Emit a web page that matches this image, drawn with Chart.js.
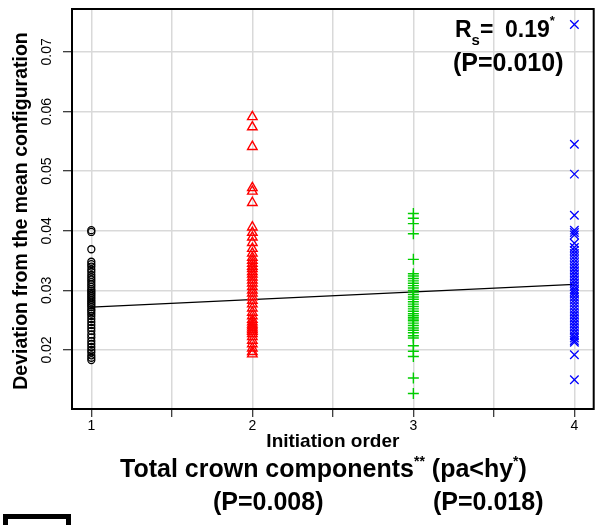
<!DOCTYPE html>
<html>
<head>
<meta charset="utf-8">
<script src="https://cdn.jsdelivr.net/npm/chart.js@4"></script>
<style>
  body { margin: 0; background: #fff; }
  canvas { display: block; }
</style>
</head>
<body>
<canvas id="deviation" width="601" height="525"></canvas>
<script>
// Deviation from the mean configuration, one column per initiation order
const order1 = [0.0401, 0.0398, 0.0369, 0.0348, 0.0344, 0.0340, 0.0335, 0.0331, 0.0326, 0.0322,
  0.0318, 0.0314, 0.0310, 0.0306, 0.0302, 0.0299, 0.0296, 0.0293, 0.0290, 0.0287, 0.0284, 0.0281,
  0.0278, 0.0275, 0.0272, 0.0268, 0.0265, 0.0261, 0.0257, 0.0252, 0.0247, 0.0242, 0.0237, 0.0232,
  0.0226, 0.0221, 0.0215, 0.0210, 0.0205, 0.0200, 0.0196, 0.0191, 0.0187, 0.0183];
const order2 = [0.0591, 0.0574, 0.0541, 0.0472, 0.0466, 0.0447, 0.0406, 0.0397, 0.0389, 0.0380,
  0.0370, 0.0362, 0.0355, 0.0350, 0.0345, 0.0340, 0.0336, 0.0331, 0.0327, 0.0322, 0.0317, 0.0312,
  0.0306, 0.0300, 0.0295, 0.0289, 0.0283, 0.0277, 0.0270, 0.0263, 0.0257, 0.0251, 0.0247, 0.0243,
  0.0240, 0.0237, 0.0234, 0.0231, 0.0227, 0.0222, 0.0216, 0.0210, 0.0203, 0.0197, 0.0193];
const order3 = [0.0429, 0.0421, 0.0412, 0.0395, 0.0352, 0.0328, 0.0324, 0.0320, 0.0316, 0.0312,
  0.0308, 0.0304, 0.0300, 0.0297, 0.0293, 0.0289, 0.0285, 0.0281, 0.0277, 0.0273, 0.0269, 0.0265,
  0.0261, 0.0258, 0.0255, 0.0252, 0.0249, 0.0245, 0.0241, 0.0237, 0.0233, 0.0229, 0.0224, 0.0220,
  0.0207, 0.0198, 0.0189, 0.0153, 0.0127];
const order4 = [0.0746, 0.0545, 0.0495, 0.0426, 0.0401, 0.0397, 0.0393, 0.0379, 0.0372, 0.0367,
  0.0362, 0.0357, 0.0352, 0.0347, 0.0342, 0.0337, 0.0332, 0.0327, 0.0322, 0.0317, 0.0312, 0.0307,
  0.0302, 0.0298, 0.0294, 0.0289, 0.0284, 0.0279, 0.0274, 0.0269, 0.0264, 0.0259, 0.0254, 0.0249,
  0.0244, 0.0239, 0.0234, 0.0229, 0.0224, 0.0220, 0.0216, 0.0213, 0.0192, 0.0150];

// regression line, ends at order 1 and 4
const fitX = [1, 4];
const fitY = [0.0272, 0.0310];

const xTicks = [1, 1.5, 2, 2.5, 3, 3.5, 4];
const yTicks = [0.02, 0.03, 0.04, 0.05, 0.06, 0.07];
const yTickLabels = ['0.02', '0.03', '0.04', '0.05', '0.06', '0.07'];

const FONT = '"Liberation Sans", Arial, Helvetica, sans-serif';

function column(x, values) {
  return values.map(v => ({ x: x, y: v }));
}

// draws a row of text pieces with their own size and vertical shift
function drawRuns(ctx, x, y, runs) {
  runs.forEach(r => {
    ctx.font = 'bold ' + r.size + 'px ' + FONT;
    const px = r.x !== undefined ? r.x : x;
    ctx.fillText(r.t, px, y + (r.dy || 0));
    x = px + ctx.measureText(r.t).width;
  });
}

const annotations = {
  id: 'annotations',
  afterDraw(chart) {
    const ctx = chart.ctx;
    const area = chart.chartArea;
    const yScale = chart.scales.y;
    ctx.save();
    ctx.fillStyle = '#000';
    ctx.textBaseline = 'alphabetic';

    // plot box
    ctx.strokeStyle = '#000';
    ctx.lineWidth = 2;
    ctx.strokeRect(area.left, area.top, area.right - area.left, area.bottom - area.top);

    // rotated y tick labels
    ctx.font = '14px ' + FONT;
    ctx.textAlign = 'center';
    yTicks.forEach((v, i) => {
      ctx.save();
      ctx.translate(51, yScale.getPixelForValue(v));
      ctx.rotate(-Math.PI / 2);
      ctx.fillText(yTickLabels[i], 0, 0);
      ctx.restore();
    });

    // y axis title
    ctx.save();
    ctx.translate(27, 211);
    ctx.rotate(-Math.PI / 2);
    ctx.font = 'bold 19.5px ' + FONT;
    ctx.fillText('Deviation from the mean configuration', 0, 0);
    ctx.restore();

    // x axis title
    ctx.font = 'bold 19px ' + FONT;
    ctx.fillText('Initiation order', (area.left + area.right) / 2, 447);

    ctx.textAlign = 'left';
    // correlation in the corner
    drawRuns(ctx, 455, 37, [
      { t: 'R', size: 23 },
      { t: 's', size: 15, dy: 8 },
      { t: '=', size: 23, x: 480 },
      { t: '0.19', size: 23, x: 505 },
      { t: '*', size: 13, dy: -12 }
    ]);
    drawRuns(ctx, 453, 71, [{ t: '(P=0.010)', size: 25 }]);

    // caption lines under the chart
    drawRuns(ctx, 120, 477, [
      { t: 'Total crown components', size: 25 },
      { t: '**', size: 14, dy: -11 },
      { t: ' (pa<hy', size: 25 },
      { t: '*', size: 14, dy: -11 },
      { t: ')', size: 25 }
    ]);
    drawRuns(ctx, 213, 510, [{ t: '(P=0.008)', size: 25 }]);
    drawRuns(ctx, 433, 510, [{ t: '(P=0.018)', size: 25 }]);

    // black box at the lower left corner
    ctx.lineWidth = 5;
    ctx.strokeRect(5.5, 516.5, 63, 20);
    ctx.restore();
  }
};

const config = {
  type: 'scatter',
  data: {
    datasets: [
      {
        data: column(1, order1),
        pointStyle: 'circle',
        pointRadius: 3.5,
        borderColor: '#000',
        backgroundColor: 'rgba(0,0,0,0)',
        borderWidth: 1.3
      },
      {
        data: column(2, order2),
        pointStyle: 'triangle',
        pointRadius: 5.5,
        borderColor: '#ff0000',
        backgroundColor: 'rgba(0,0,0,0)',
        borderWidth: 1.4
      },
      {
        data: column(3, order3),
        pointStyle: 'cross',
        pointRadius: 5.5,
        borderColor: '#00cd00',
        borderWidth: 1.4
      },
      {
        data: column(4, order4),
        pointStyle: 'crossRot',
        pointRadius: 6,
        borderColor: '#0000ff',
        borderWidth: 1.3
      },
      {
        type: 'line',
        data: fitX.map((x, i) => ({ x: x, y: fitY[i] })),
        borderColor: '#000',
        borderWidth: 1.2,
        pointRadius: 0,
        fill: false
      }
    ]
  },
  options: {
    responsive: false,
    animation: false,
    devicePixelRatio: 1,
    layout: { padding: { top: 9, right: 4, left: 0, bottom: 0 } },
    plugins: {
      legend: { display: false },
      tooltip: { enabled: false }
    },
    scales: {
      x: {
        type: 'linear',
        min: 0.88,
        max: 4.12,
        afterBuildTicks: scale => { scale.ticks = xTicks.map(v => ({ value: v })); },
        afterFit: scale => { scale.height = 116; },
        border: { display: false },
        grid: { color: '#d9d9d9', lineWidth: 1.5, tickColor: '#000', tickLength: 8, tickWidth: 1 },
        ticks: {
          autoSkip: false,
          maxRotation: 0,
          padding: 1,
          color: '#000',
          font: { family: FONT, size: 14 },
          callback: v => Number.isInteger(v) ? String(v) : ''
        }
      },
      y: {
        type: 'linear',
        min: 0.0101,
        max: 0.0772,
        afterBuildTicks: scale => { scale.ticks = yTicks.map(v => ({ value: v })); },
        afterFit: scale => { scale.width = 72; },
        border: { display: false },
        grid: { color: '#d9d9d9', lineWidth: 1.5, tickColor: '#000', tickLength: 9, tickWidth: 1 },
        ticks: { display: false }
      }
    }
  },
  plugins: [annotations]
};

const deviationChart = new Chart(document.getElementById('deviation'), config);
</script>
</body>
</html>
